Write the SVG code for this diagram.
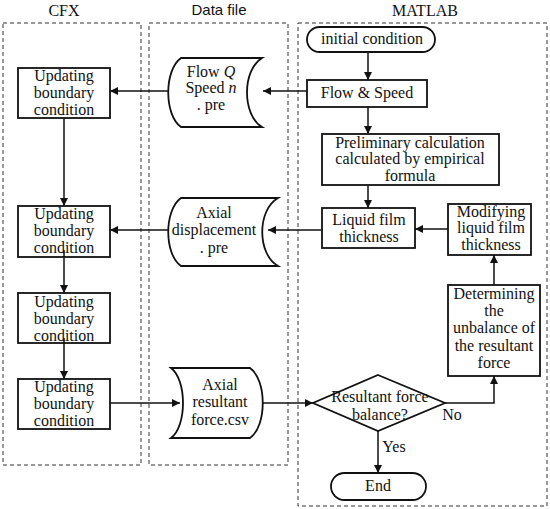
<svg xmlns="http://www.w3.org/2000/svg" width="550" height="509" viewBox="0 0 550 509">
<style>
.lane{fill:none;stroke:#333;stroke-width:1;stroke-dasharray:4 3}
.box{fill:#fff;stroke:#111;stroke-width:1.8}
.t{font-family:"Liberation Serif","Times New Roman",serif;font-size:16px;fill:#111;text-anchor:middle}
.ts{font-family:"Liberation Sans",Arial,sans-serif;font-size:15px;fill:#111;text-anchor:middle}
.c{fill:none;stroke:#111;stroke-width:1.5;marker-end:url(#ah)}
</style>
<defs>
<marker id="ah" markerUnits="userSpaceOnUse" markerWidth="9" markerHeight="8" refX="8" refY="4" orient="auto">
<path d="M0,0 L8,4 L0,8 z" fill="#111"/>
</marker>
</defs>
<rect width="550" height="509" fill="#fff"/>
<g id="lanes">
<rect class="lane" x="3" y="23" width="138" height="442"/>
<rect class="lane" x="149" y="23" width="139" height="442"/>
<rect class="lane" x="298" y="23" width="249" height="483"/>
<text class="t" x="64" y="16" font-size="15">CFX</text>
<text class="ts" x="219" y="15">Data file</text>
<text class="t" x="425" y="16" font-size="15">MATLAB</text>
</g>
<g id="connectors">
<path class="c" d="M368,52 V80"/>
<path class="c" d="M368,107 V134"/>
<path class="c" d="M368,185 V208"/>
<path class="c" d="M307,91 H263"/>
<path class="c" d="M170,91 H110"/>
<path class="c" d="M321,230 H268"/>
<path class="c" d="M170,230 H110"/>
<path class="c" d="M64,118 V206"/>
<path class="c" d="M64,250 V293"/>
<path class="c" d="M64,338 V379"/>
<path class="c" d="M110,403 H180"/>
<path class="c" d="M263,403 H313"/>
<path class="c" d="M445,403 H494 V376"/>
<path class="c" d="M494,285 V255"/>
<path class="c" d="M448,229 H415"/>
<path class="c" d="M378,431 V473"/>
</g>
<g id="cfx1">
<rect class="box" x="18" y="68" width="92" height="50"/>
<text class="t" x="64" y="81">Updating</text>
<text class="t" x="64" y="98">boundary</text>
<text class="t" x="64" y="115">condition</text>
</g>
<g id="cfx2">
<rect class="box" x="18" y="206" width="92" height="51" fill="none" style="fill:none"/>
<text class="t" x="64" y="219">Updating</text>
<text class="t" x="64" y="236">boundary</text>
<text class="t" x="64" y="253">condition</text>
</g>
<g id="cfx3">
<rect class="box" x="18" y="293" width="92" height="50" style="fill:none"/>
<text class="t" x="64" y="307">Updating</text>
<text class="t" x="64" y="324">boundary</text>
<text class="t" x="64" y="341">condition</text>
</g>
<g id="cfx4">
<rect class="box" x="18" y="379" width="92" height="50"/>
<text class="t" x="64" y="392">Updating</text>
<text class="t" x="64" y="409">boundary</text>
<text class="t" x="64" y="426">condition</text>
</g>
<g id="file1">
<path class="box" d="M181,58 H262 C242,70 242,115 262,127 H181 C164,115 164,70 181,58 Z"/>
<text class="t" x="211" y="77">Flow <tspan font-style="italic">Q</tspan></text>
<text class="t" x="211" y="93">Speed <tspan font-style="italic">n</tspan></text>
<text class="t" x="211" y="110">. pre</text>
</g>
<g id="file2">
<path class="box" d="M181,198 H278 C257,210 257,254 278,266 H181 C164,254 164,210 181,198 Z"/>
<text class="t" x="214" y="218">Axial</text>
<text class="t" x="214" y="235">displacement</text>
<text class="t" x="214" y="253">. pre</text>
</g>
<g id="file3">
<path class="box" d="M171,368 H250 C267,380 267,426 250,438 H171 C187,426 187,380 171,368 Z"/>
<text class="t" x="220" y="390">Axial</text>
<text class="t" x="220" y="407">resultant</text>
<text class="t" x="220" y="425">force.csv</text>
</g>
<g id="initial">
<rect class="box" x="307" y="27" width="128" height="25" rx="12.5"/>
<text class="t" x="372" y="44">initial condition</text>
</g>
<g id="flowspeed">
<rect class="box" x="307" y="80" width="120" height="27"/>
<text class="t" x="367" y="98">Flow &amp; Speed</text>
</g>
<g id="prelim">
<rect class="box" x="322" y="134" width="177" height="51"/>
<text class="t" x="410" y="148">Preliminary calculation</text>
<text class="t" x="410" y="164">calculated by empirical</text>
<text class="t" x="410" y="181">formula</text>
</g>
<g id="liquid">
<rect class="box" x="322" y="208" width="93" height="40"/>
<text class="t" x="369" y="225">Liquid film</text>
<text class="t" x="369" y="242">thickness</text>
</g>
<g id="modify">
<rect class="box" x="448" y="204" width="83" height="51"/>
<text class="t" x="491" y="217">Modifying</text>
<text class="t" x="491" y="233">liquid film</text>
<text class="t" x="491" y="250">thickness</text>
</g>
<g id="determine">
<rect class="box" x="448" y="285" width="92" height="91"/>
<text class="t" x="494" y="299">Determining</text>
<text class="t" x="494" y="316">the</text>
<text class="t" x="494" y="333">unbalance of</text>
<text class="t" x="494" y="351">the resultant</text>
<text class="t" x="494" y="368">force</text>
</g>
<g id="decision">
<path class="box" d="M378,375 L445,403 L378,431 L313,403 Z"/>
<text class="t" x="380" y="402">Resultant force</text>
<text class="t" x="380" y="420">balance?</text>
<text class="t" x="452" y="420">No</text>
<text class="t" x="394" y="452">Yes</text>
</g>
<g id="end">
<rect class="box" x="331" y="473" width="95" height="27" rx="13.5"/>
<text class="t" x="378" y="491">End</text>
</g>
</svg>
